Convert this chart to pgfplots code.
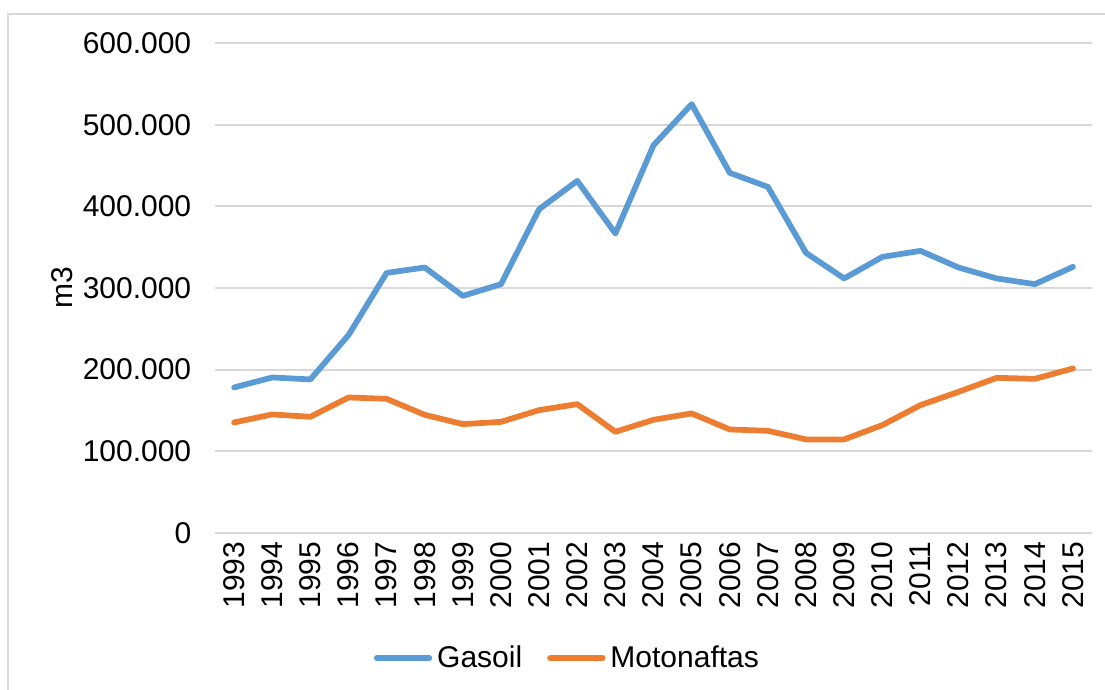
\documentclass[border=0pt]{standalone}
\usepackage{pgfplots}
\pgfplotsset{compat=1.18}
\usepackage{fontspec}
\setmainfont{Liberation Sans}
\definecolor{gasoil}{HTML}{5B9BD5}
\definecolor{nafta}{HTML}{ED7D31}
\definecolor{gridc}{HTML}{D9D9D9}
\begin{document}
\begin{tikzpicture}
\begin{axis}[
  scale only axis,
  width=350.8pt, height=195.8pt,
  xmin=1992.5, xmax=2015.5,
  ymin=0, ymax=600000,
  xtick={1993,...,2015},
  ytick={0,100000,...,600000},
  /pgf/number format/assume math mode=true,
  xticklabel={\pgfmathprintnumber[precision=0,1000 sep={}]{\tick}},
  scaled y ticks=false,
  yticklabel={\pgfmathprintnumber[fixed,precision=0,1000 sep={.}]{\tick}},
  xticklabel style={rotate=90, anchor=east},
  yticklabel style={xshift=-6pt},
  tick label style={font=\fontsize{12}{14}\selectfont},
  major tick length=0pt,
  axis line style={draw=none},
  ymajorgrids, grid style={gridc, line width=0.8pt},
  ylabel={m3},
  ylabel style={at={(rel axis cs:-0.1745,0.5)}, anchor=center, font=\fontsize{12}{14}\selectfont},
  legend style={at={(rel axis cs:0.4035,-0.256)}, anchor=center, draw=none, legend columns=2,
    font=\fontsize{12}{14}\selectfont, /tikz/every even column/.append style={column sep=8pt},
    inner sep=0pt},
  legend image code/.code={\draw[#1, line width=2.3pt, line cap=round] (0pt,0pt) -- (21pt,0pt);},
  clip=false,
]
\addplot[gasoil, line width=2.3pt, line join=round, line cap=round] coordinates {
(1993,178200) (1994,190400) (1995,188000) (1996,242300) (1997,318600) (1998,325200)
(1999,290400) (2000,304800) (2001,396700) (2002,431400) (2003,366900) (2004,475100)
(2005,525400) (2006,441200) (2007,424000) (2008,343100) (2009,311800) (2010,338200)
(2011,345600) (2012,325200) (2013,311800) (2014,304800) (2015,326000)};
\addlegendentry{Gasoil}
\addplot[nafta, line width=2.3pt, line join=round, line cap=round] coordinates {
(1993,135300) (1994,145100) (1995,142200) (1996,165900) (1997,164200) (1998,144600)
(1999,133200) (2000,136000) (2001,150400) (2002,157700) (2003,123800) (2004,138500)
(2005,146300) (2006,126700) (2007,125000) (2008,114500) (2009,114500) (2010,132000)
(2011,156500) (2012,172800) (2013,190000) (2014,188700) (2015,201500)};
\addlegendentry{Motonaftas}
\coordinate (bbA) at (rel axis cs:-0.2452,1.0885);
\coordinate (bbB) at (rel axis cs:1.0148,-0.3194);
\coordinate (brA) at (rel axis cs:-0.2360,1.0599);
\coordinate (brB) at (rel axis cs:1.05,-0.35);
\end{axis}
\draw[gridc, line width=0.8pt] (brA) rectangle (brB);
\pgfresetboundingbox
\useasboundingbox (bbA) rectangle (bbB);
\end{tikzpicture}
\end{document}
